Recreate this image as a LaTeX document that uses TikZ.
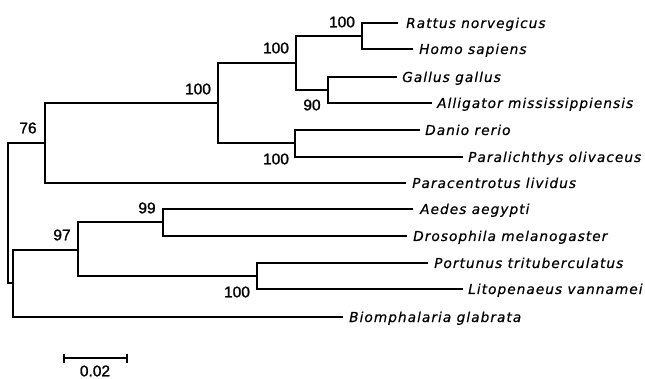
\documentclass[tikz,border=0pt]{standalone}
\usepackage{fontspec}
\setmainfont{Liberation Sans}
\newfontfamily\bootfont[FakeBold=1.2]{Liberation Sans}
\newfontfamily\spfont[LetterSpace=7.5,FakeBold=0.6]{DejaVu Sans}
\begin{document}
\begin{tikzpicture}[x=1pt,y=-1pt,
  branch/.style={line width=2pt,line join=miter},
  taxon/.style={anchor=base west,inner sep=0pt,font=\spfont\itshape\fontsize{13.7}{15}\selectfont},
  boot/.style={anchor=center,inner sep=0pt,font=\bootfont\fontsize{15.5}{17}\selectfont}]
\useasboundingbox (0,0) rectangle (645,379);
% leaf ends
\coordinate (R) at (398,23);
\coordinate (H) at (413,49);
\coordinate (G) at (397,77);
\coordinate (A) at (432,103);
\coordinate (D) at (420,130);
\coordinate (P) at (463,157);
\coordinate (Pc) at (406,183);
\coordinate (Ae) at (413,209);
\coordinate (Dr) at (407,236);
\coordinate (Pt) at (428,263);
\coordinate (L) at (463,289);
\coordinate (B) at (343,317);
% internal nodes
\coordinate (n1) at (362,36);
\coordinate (n2) at (328,90);
\coordinate (n3) at (296,63);
\coordinate (n4) at (295,143.5);
\coordinate (n5) at (218,103);
\coordinate (n6) at (45,143);
\coordinate (n7) at (163,222.5);
\coordinate (n8) at (257,276);
\coordinate (n9) at (78,250);
\coordinate (n10) at (12.7,283.5);
\coordinate (root) at (8,213);
% branches
\draw[branch] (R) -| (n1) |- (H);
\draw[branch] (G) -| (n2) |- (A);
\draw[branch] (n1) -| (n3) |- (n2);
\draw[branch] (D) -| (n4) |- (P);
\draw[branch] (n3) -| (n5) |- (n4);
\draw[branch] (n5) -| (n6) |- (Pc);
\draw[branch] (Ae) -| (n7) |- (Dr);
\draw[branch] (Pt) -| (n8) |- (L);
\draw[branch] (n7) -| (n9) |- (n8);
\draw[branch] (n9) -| (n10) |- (B);
\draw[branch] (n6) -| (root) |- (n10);
% taxa
\node[taxon] (tR) at (406,28) {Rattus norvegicus};
\node[taxon] (tH) at (419,54) {Homo sapiens};
\node[taxon] (tG) at (402,82) {Gallus gallus};
\node[taxon] (tA) at (437,108) {Alligator mississippiensis};
\node[taxon] (tD) at (425,135) {Danio rerio};
\node[taxon] (tP) at (468,162) {Paralichthys olivaceus};
\node[taxon] (tPc) at (412,188) {Paracentrotus lividus};
\node[taxon] (tAe) at (420,214) {Aedes aegypti};
\node[taxon] (tDr) at (413,241) {Drosophila melanogaster};
\node[taxon] (tPt) at (434,268) {Portunus trituberculatus};
\node[taxon] (tL) at (468,294) {Litopenaeus vannamei};
\node[taxon] (tB) at (349,322) {Biomphalaria glabrata};
% bootstrap values
\node[boot] (b1) at (342,22) {100};
\node[boot] (b3) at (276,48) {100};
\node[boot] (b5) at (198,89) {100};
\node[boot] (b6) at (28,128) {76};
\node[boot] (b2) at (312,105) {90};
\node[boot] (b4) at (276,159) {100};
\node[boot] (b7) at (147,208) {99};
\node[boot] (b9) at (62,235) {97};
\node[boot] (b8) at (237,292) {100};
% scale bar
\coordinate (s1) at (63.5,358);
\coordinate (s2) at (127,358);
\draw[line width=2pt] (s1) -- (s2);
\draw[line width=2pt] ([yshift=-4.5pt]s1) -- ([yshift=4.5pt]s1);
\draw[line width=2pt] ([yshift=-4.5pt]s2) -- ([yshift=4.5pt]s2);
\node[boot] (sb) at (95,371) {0.02};
\end{tikzpicture}
\end{document}
